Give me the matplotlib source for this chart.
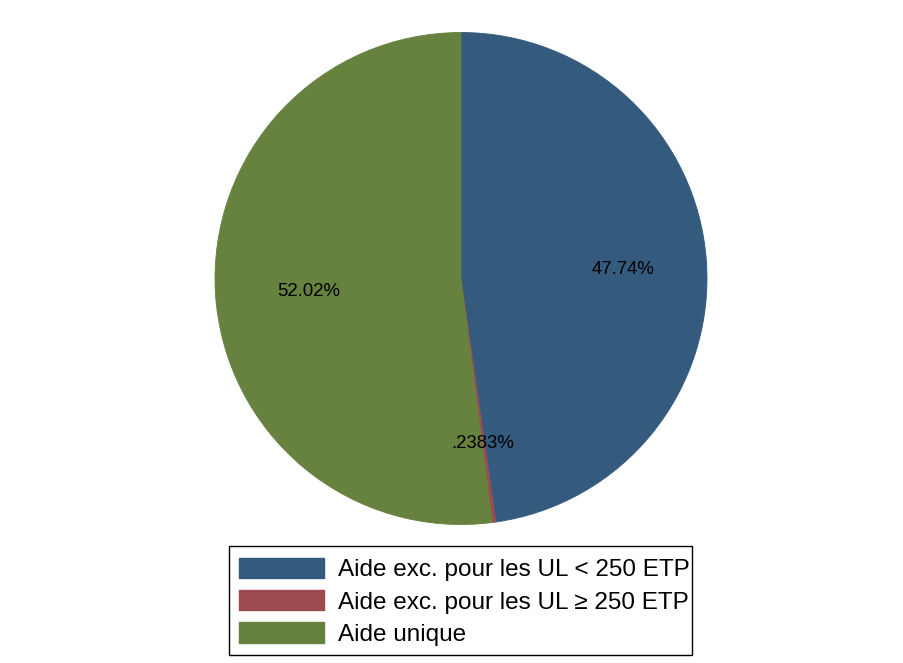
import matplotlib.pyplot as plt
from matplotlib.patches import Patch, Rectangle
import numpy as np

labels = ["Aide exc. pour les UL < 250 ETP",
          "Aide exc. pour les UL \u2265 250 ETP",
          "Aide unique"]
values = [47.74, 0.2383, 52.02]
pct_text = ["47.74%", ".2383%", "52.02%"]
colors = ["#345a7e", "#9c4b51", "#67813f"]

W, H = 904, 663
fig = plt.figure(figsize=(W / 100, H / 100), dpi=100)
fig.patch.set_facecolor("white")

# pie centre at (461, 278.5), radius 246 px
cx, cy, r = 461, 278.5, 246
ax = fig.add_axes([(cx - r) / W, 1 - (cy + r) / H, 2 * r / W, 2 * r / H])
wedges, _ = ax.pie(values, colors=colors, startangle=90, counterclock=False,
                   wedgeprops=dict(linewidth=0.6))
for w in wedges:
    w.set_edgecolor(w.get_facecolor())
ax.set_xlim(-1, 1)
ax.set_ylim(-1, 1)
ax.set_aspect("equal")

# label distance from centre (fraction of radius), as placed in the original
lab_r = [0.66, 0.665, 0.62]
start = 90.0
for v, t, lr in zip(values, pct_text, lab_r):
    mid = start - v / 100 * 360 / 2
    start -= v / 100 * 360
    a = np.deg2rad(mid)
    ax.text(lr * np.cos(a), lr * np.sin(a) - 0.012, t, ha="center", va="center",
            fontsize=13.4, family="Liberation Sans", color="black")

# legend box drawn by hand so the padding matches
fig.add_artist(Rectangle((229 / W, 1 - 655 / H), 463 / W, 109 / H,
                         transform=fig.transFigure, facecolor="white",
                         edgecolor="black", linewidth=1.0))
handles = [Patch(facecolor=c, edgecolor=c) for c in colors]
leg = fig.legend(handles, labels, loc="upper left",
                 bbox_to_anchor=(239 / W, 1 - 558 / H),
                 prop=dict(family="Liberation Sans", size=17.5),
                 handlelength=3.5, handleheight=0.9, handletextpad=0.58,
                 labelspacing=0.36, borderpad=0, borderaxespad=0,
                 frameon=False)

fig.savefig("out.png", dpi=100)
